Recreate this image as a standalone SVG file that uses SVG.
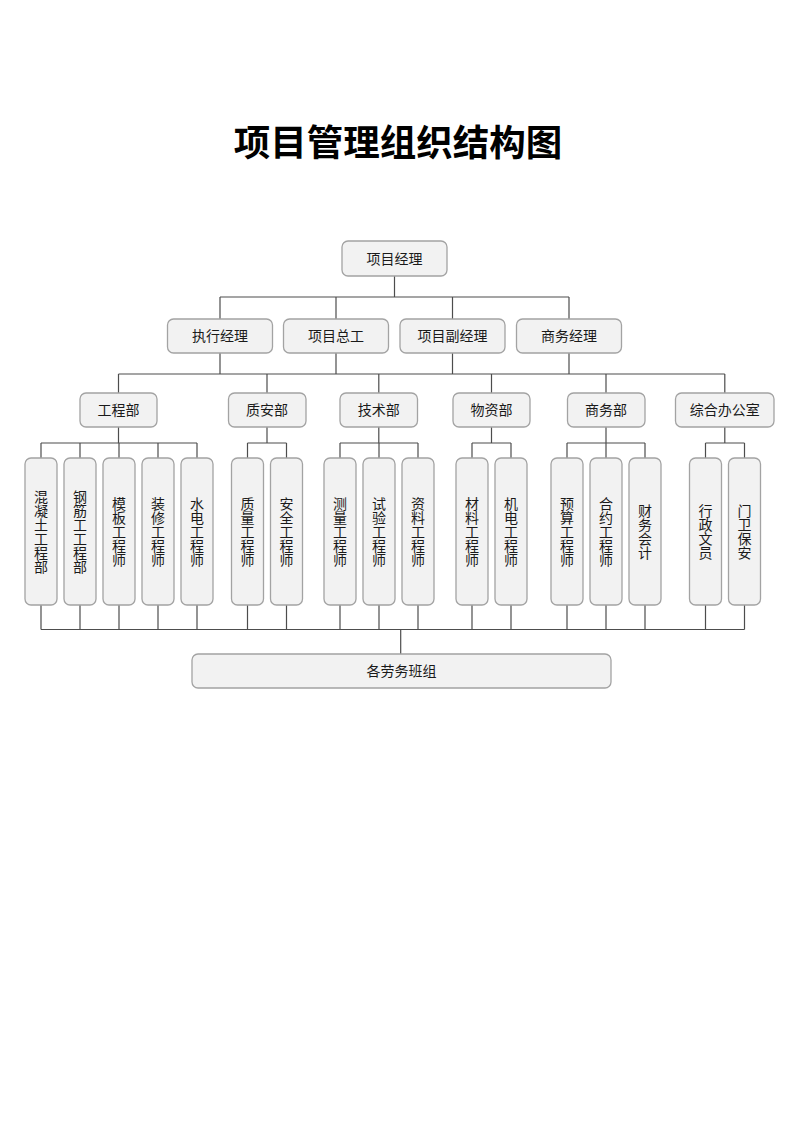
<svg xmlns="http://www.w3.org/2000/svg" width="800" height="1131" viewBox="0 0 800 1131">
<style>
.bx{fill:#f2f2f2;stroke:#a3a3a3;stroke-width:1.3}
.t{font-family:"Liberation Sans","Noto Sans CJK SC",sans-serif;font-size:14px;fill:#1a1a1a;text-anchor:middle}
.v{font-family:"Liberation Sans","Noto Sans CJK SC",sans-serif;font-size:14px;fill:#1a1a1a;text-anchor:middle}
.ln{stroke:#4d4d4d;stroke-width:1.2;fill:none}
.title{font-family:"Liberation Sans","Noto Sans CJK SC",sans-serif;font-size:36.5px;font-weight:bold;fill:#000;text-anchor:middle}
</style>
<rect width="800" height="1131" fill="#fff"/>
<text class="title" x="398" y="156">项目管理组织结构图</text>

<g id="connectors" class="ln">
<path d="M394.5 276V297M220 297H569M220 297V319M336 297V319M452.5 297V319M569 297V319"/>
<path d="M220 353V374M336 353V374M452.5 353V374M569 353V374M118.5 374H724.8M118.5 374V393M267 374V393M378.8 374V393M491.5 374V393M606 374V393M724.8 374V393"/>
<path d="M118.5 427V443M41 443H197M41 443V458M80 443V458M119 443V458M158 443V458M197 443V458"/>
<path d="M267 427V443M247.5 443H286.5M247.5 443V458M286.5 443V458"/>
<path d="M378.8 427V443M340 443H418M340 443V458M379 443V458M418 443V458"/>
<path d="M491.5 427V443M472 443H511M472 443V458M511 443V458"/>
<path d="M606 427V443M567 443H645M567 443V458M606 443V458M645 443V458"/>
<path d="M724.8 427V443M705.5 443H744.5M705.5 443V458M744.5 443V458"/>
<path d="M41 605V629.5M80 605V629.5M119 605V629.5M158 605V629.5M197 605V629.5M247.5 605V629.5M286.5 605V629.5M340 605V629.5M379 605V629.5M418 605V629.5M472 605V629.5M511 605V629.5M567 605V629.5M606 605V629.5M645 605V629.5M705.5 605V629.5M744.5 605V629.5M41 629.5H744.5M400.7 629.5V654"/>
</g>

<g id="n-pm"><rect class="bx" x="342" y="241" width="105" height="35" rx="6"/><text class="t" x="394.5" y="263.5">项目经理</text></g>

<g id="n-exec"><rect class="bx" x="167.5" y="319" width="105" height="34" rx="6"/><text class="t" x="220" y="341">执行经理</text></g>
<g id="n-chief"><rect class="bx" x="283.5" y="319" width="105" height="34" rx="6"/><text class="t" x="336" y="341">项目总工</text></g>
<g id="n-vice"><rect class="bx" x="400" y="319" width="105" height="34" rx="6"/><text class="t" x="452.5" y="341">项目副经理</text></g>
<g id="n-biz"><rect class="bx" x="516.5" y="319" width="105" height="34" rx="6"/><text class="t" x="569" y="341">商务经理</text></g>

<g id="d-eng"><rect class="bx" x="80" y="393" width="77" height="34" rx="6"/><text class="t" x="118.5" y="415">工程部</text></g>
<g id="d-qs"><rect class="bx" x="228.5" y="393" width="77.5" height="34" rx="6"/><text class="t" x="267" y="415">质安部</text></g>
<g id="d-tech"><rect class="bx" x="340" y="393" width="77.5" height="34" rx="6"/><text class="t" x="378.8" y="415">技术部</text></g>
<g id="d-mat"><rect class="bx" x="453" y="393" width="77" height="34" rx="6"/><text class="t" x="491.5" y="415">物资部</text></g>
<g id="d-biz"><rect class="bx" x="567.5" y="393" width="77.5" height="34" rx="6"/><text class="t" x="606" y="415">商务部</text></g>
<g id="d-off"><rect class="bx" x="675.5" y="393" width="98.5" height="34" rx="6"/><text class="t" x="724.8" y="415">综合办公室</text></g>

<g id="r1"><rect class="bx" x="25" y="458" width="32" height="147" rx="6"/><text class="v"><tspan x="41" y="501.5">混</tspan><tspan x="41" y="515.5">凝</tspan><tspan x="41" y="529.5">土</tspan><tspan x="41" y="543.5">工</tspan><tspan x="41" y="557.5">程</tspan><tspan x="41" y="571.5">部</tspan></text></g>
<g id="r2"><rect class="bx" x="64" y="458" width="32" height="147" rx="6"/><text class="v"><tspan x="80" y="501.5">钢</tspan><tspan x="80" y="515.5">筋</tspan><tspan x="80" y="529.5">工</tspan><tspan x="80" y="543.5">工</tspan><tspan x="80" y="557.5">程</tspan><tspan x="80" y="571.5">部</tspan></text></g>
<g id="r3"><rect class="bx" x="103" y="458" width="32" height="147" rx="6"/><text class="v"><tspan x="119" y="508.5">模</tspan><tspan x="119" y="522.5">板</tspan><tspan x="119" y="536.5">工</tspan><tspan x="119" y="550.5">程</tspan><tspan x="119" y="564.5">师</tspan></text></g>
<g id="r4"><rect class="bx" x="142" y="458" width="32" height="147" rx="6"/><text class="v"><tspan x="158" y="508.5">装</tspan><tspan x="158" y="522.5">修</tspan><tspan x="158" y="536.5">工</tspan><tspan x="158" y="550.5">程</tspan><tspan x="158" y="564.5">师</tspan></text></g>
<g id="r5"><rect class="bx" x="181" y="458" width="32" height="147" rx="6"/><text class="v"><tspan x="197" y="508.5">水</tspan><tspan x="197" y="522.5">电</tspan><tspan x="197" y="536.5">工</tspan><tspan x="197" y="550.5">程</tspan><tspan x="197" y="564.5">师</tspan></text></g>
<g id="r6"><rect class="bx" x="231.5" y="458" width="32" height="147" rx="6"/><text class="v"><tspan x="247.5" y="508.5">质</tspan><tspan x="247.5" y="522.5">量</tspan><tspan x="247.5" y="536.5">工</tspan><tspan x="247.5" y="550.5">程</tspan><tspan x="247.5" y="564.5">师</tspan></text></g>
<g id="r7"><rect class="bx" x="270.5" y="458" width="32" height="147" rx="6"/><text class="v"><tspan x="286.5" y="508.5">安</tspan><tspan x="286.5" y="522.5">全</tspan><tspan x="286.5" y="536.5">工</tspan><tspan x="286.5" y="550.5">程</tspan><tspan x="286.5" y="564.5">师</tspan></text></g>
<g id="r8"><rect class="bx" x="324" y="458" width="32" height="147" rx="6"/><text class="v"><tspan x="340" y="508.5">测</tspan><tspan x="340" y="522.5">量</tspan><tspan x="340" y="536.5">工</tspan><tspan x="340" y="550.5">程</tspan><tspan x="340" y="564.5">师</tspan></text></g>
<g id="r9"><rect class="bx" x="363" y="458" width="32" height="147" rx="6"/><text class="v"><tspan x="379" y="508.5">试</tspan><tspan x="379" y="522.5">验</tspan><tspan x="379" y="536.5">工</tspan><tspan x="379" y="550.5">程</tspan><tspan x="379" y="564.5">师</tspan></text></g>
<g id="r10"><rect class="bx" x="402" y="458" width="32" height="147" rx="6"/><text class="v"><tspan x="418" y="508.5">资</tspan><tspan x="418" y="522.5">料</tspan><tspan x="418" y="536.5">工</tspan><tspan x="418" y="550.5">程</tspan><tspan x="418" y="564.5">师</tspan></text></g>
<g id="r11"><rect class="bx" x="456" y="458" width="32" height="147" rx="6"/><text class="v"><tspan x="472" y="508.5">材</tspan><tspan x="472" y="522.5">料</tspan><tspan x="472" y="536.5">工</tspan><tspan x="472" y="550.5">程</tspan><tspan x="472" y="564.5">师</tspan></text></g>
<g id="r12"><rect class="bx" x="495" y="458" width="32" height="147" rx="6"/><text class="v"><tspan x="511" y="508.5">机</tspan><tspan x="511" y="522.5">电</tspan><tspan x="511" y="536.5">工</tspan><tspan x="511" y="550.5">程</tspan><tspan x="511" y="564.5">师</tspan></text></g>
<g id="r13"><rect class="bx" x="551" y="458" width="32" height="147" rx="6"/><text class="v"><tspan x="567" y="508.5">预</tspan><tspan x="567" y="522.5">算</tspan><tspan x="567" y="536.5">工</tspan><tspan x="567" y="550.5">程</tspan><tspan x="567" y="564.5">师</tspan></text></g>
<g id="r14"><rect class="bx" x="590" y="458" width="32" height="147" rx="6"/><text class="v"><tspan x="606" y="508.5">合</tspan><tspan x="606" y="522.5">约</tspan><tspan x="606" y="536.5">工</tspan><tspan x="606" y="550.5">程</tspan><tspan x="606" y="564.5">师</tspan></text></g>
<g id="r15"><rect class="bx" x="629" y="458" width="32" height="147" rx="6"/><text class="v"><tspan x="645" y="515.5">财</tspan><tspan x="645" y="529.5">务</tspan><tspan x="645" y="543.5">会</tspan><tspan x="645" y="557.5">计</tspan></text></g>
<g id="r16"><rect class="bx" x="689.5" y="458" width="32" height="147" rx="6"/><text class="v"><tspan x="705.5" y="515.5">行</tspan><tspan x="705.5" y="529.5">政</tspan><tspan x="705.5" y="543.5">文</tspan><tspan x="705.5" y="557.5">员</tspan></text></g>
<g id="r17"><rect class="bx" x="728.5" y="458" width="32" height="147" rx="6"/><text class="v"><tspan x="744.5" y="515.5">门</tspan><tspan x="744.5" y="529.5">卫</tspan><tspan x="744.5" y="543.5">保</tspan><tspan x="744.5" y="557.5">安</tspan></text></g>

<g id="n-labor"><rect class="bx" x="192" y="654" width="419" height="34" rx="6"/><text class="t" x="401.5" y="676">各劳务班组</text></g>
</svg>
